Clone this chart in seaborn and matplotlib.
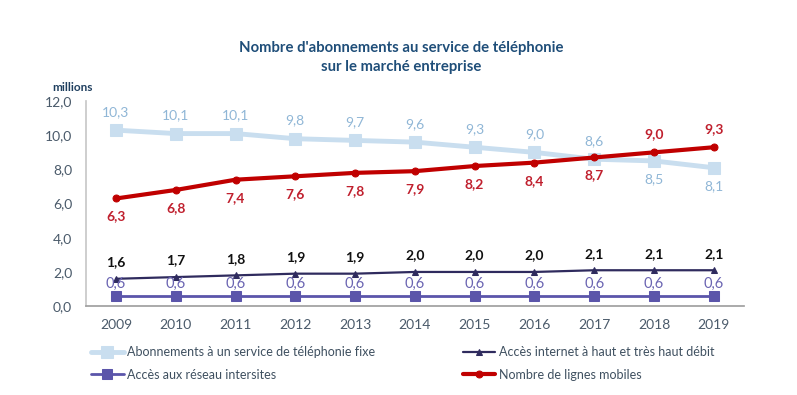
import matplotlib
matplotlib.use("Agg")
import matplotlib.pyplot as plt
import seaborn as sns
import pandas as pd
import numpy as np

years = ["2009", "2010", "2011", "2012", "2013", "2014", "2015", "2016", "2017", "2018", "2019"]
fixe = [10.3, 10.1, 10.1, 9.8, 9.7, 9.6, 9.3, 9.0, 8.6, 8.5, 8.1]
mobiles = [6.3, 6.8, 7.4, 7.6, 7.8, 7.9, 8.2, 8.4, 8.7, 9.0, 9.3]
internet = [1.6, 1.7, 1.8, 1.9, 1.9, 2.0, 2.0, 2.0, 2.1, 2.1, 2.1]
intersites = [0.6, 0.6, 0.6, 0.6, 0.6, 0.6, 0.6, 0.6, 0.6, 0.6, 0.6]
yticks = [0, 2, 4, 6, 8, 10, 12]

sns.set_theme(style="white")
plt.rcParams['font.family'] = ['Lato', 'DejaVu Sans']

fig = plt.figure(figsize=(7.97, 3.95), dpi=100)
ax = fig.add_axes([0.108, 0.225, 0.825, 0.519])

x = np.arange(len(years))
c_fixe, c_fixe_t = "#C9DEEF", "#8FB6D6"
c_mob, c_mob_t = "#C00000", "#C0202E"
c_int, c_int_t = "#2F2B5E", "#111111"
c_isr, c_isr_t = "#5B55AA", "#6A64B2"

sns.lineplot(x=x, y=fixe, ax=ax, color=c_fixe, lw=3.5, marker="s", markersize=9,
             markeredgecolor=c_fixe, label="Abonnements à un service de téléphonie fixe")
sns.lineplot(x=x, y=internet, ax=ax, color=c_int, lw=1.6, marker="^", markersize=5,
             markeredgecolor=c_int, label="Accès internet à haut et très haut débit")
sns.lineplot(x=x, y=intersites, ax=ax, color=c_isr, lw=2, marker="s", markersize=7,
             markeredgecolor=c_isr, label="Accès aux réseau intersites")
sns.lineplot(x=x, y=mobiles, ax=ax, color=c_mob, lw=3, marker="o", markersize=5,
             markeredgecolor=c_mob, label="Nombre de lignes mobiles")

def fmt(v):
    return f"{v:.1f}".replace(".", ",")

for i in range(len(years)):
    dy = 13 if i < 9 else -13
    ax.annotate(fmt(fixe[i]), (x[i], fixe[i]), xytext=(0, dy), textcoords="offset points",
                ha="center", va="center", color=c_fixe_t, fontsize=10)
    dy = -13 if i < 9 else 13
    ax.annotate(fmt(mobiles[i]), (x[i], mobiles[i]), xytext=(0, dy), textcoords="offset points",
                ha="center", va="center", color=c_mob_t, fontsize=10, fontweight="bold")
    ax.annotate(fmt(internet[i]), (x[i], internet[i]), xytext=(0, 12), textcoords="offset points",
                ha="center", va="center", color=c_int_t, fontsize=10, fontweight="bold")
    ax.annotate(fmt(intersites[i]), (x[i], intersites[i]), xytext=(0, 8.5), textcoords="offset points",
                ha="center", va="center", color=c_isr_t, fontsize=10.5)

ax.set_xlim(-0.5, len(years) - 0.5)
ax.set_ylim(0, 12)
ax.set_yticks(yticks)
ax.set_yticklabels([fmt(v) for v in yticks], color="#4A5A6A", fontsize=10)
ax.set_xticks(x)
ax.set_xticklabels(years, color="#4A5A6A", fontsize=10)
ax.set_xticks(np.arange(-0.5, len(years)), minor=True)
ax.tick_params(axis="x", which="major", length=0, pad=9)
ax.tick_params(axis="x", which="minor", length=4, color="#A0A0A0", direction="out")
ax.tick_params(axis="y", length=4, color="#A0A0A0", direction="out", pad=6)
for s in ["top", "right"]:
    ax.spines[s].set_visible(False)
ax.spines["left"].set_color("#C8C8C8")
ax.spines["bottom"].set_color("#A0A0A0")
ax.set_xlabel("")
ax.set_ylabel("")

fig.text(0.065, 0.778, "millions", fontsize=8.5, fontweight="bold", color="#1F3F5F", ha="left", va="center")
fig.text(0.503, 0.855, "Nombre d'abonnements au service de téléphonie\nsur le marché entreprise",
         ha="center", va="center", fontsize=10.7, fontweight="bold", color="#1F4E79", linespacing=1.5)

handles, labels = ax.get_legend_handles_labels()
order = [0, 2, 1, 3]
leg = ax.legend([handles[i] for i in order], [labels[i] for i in order], ncol=2,
                loc="upper left", bbox_to_anchor=(0.0, -0.17), frameon=False,
                fontsize=9, handlelength=2.6, handletextpad=0.3, columnspacing=7.0,
                labelspacing=0.85, borderaxespad=0)
for t in leg.get_texts():
    t.set_color("#3F5060")

fig.savefig("out.png", dpi=100)
